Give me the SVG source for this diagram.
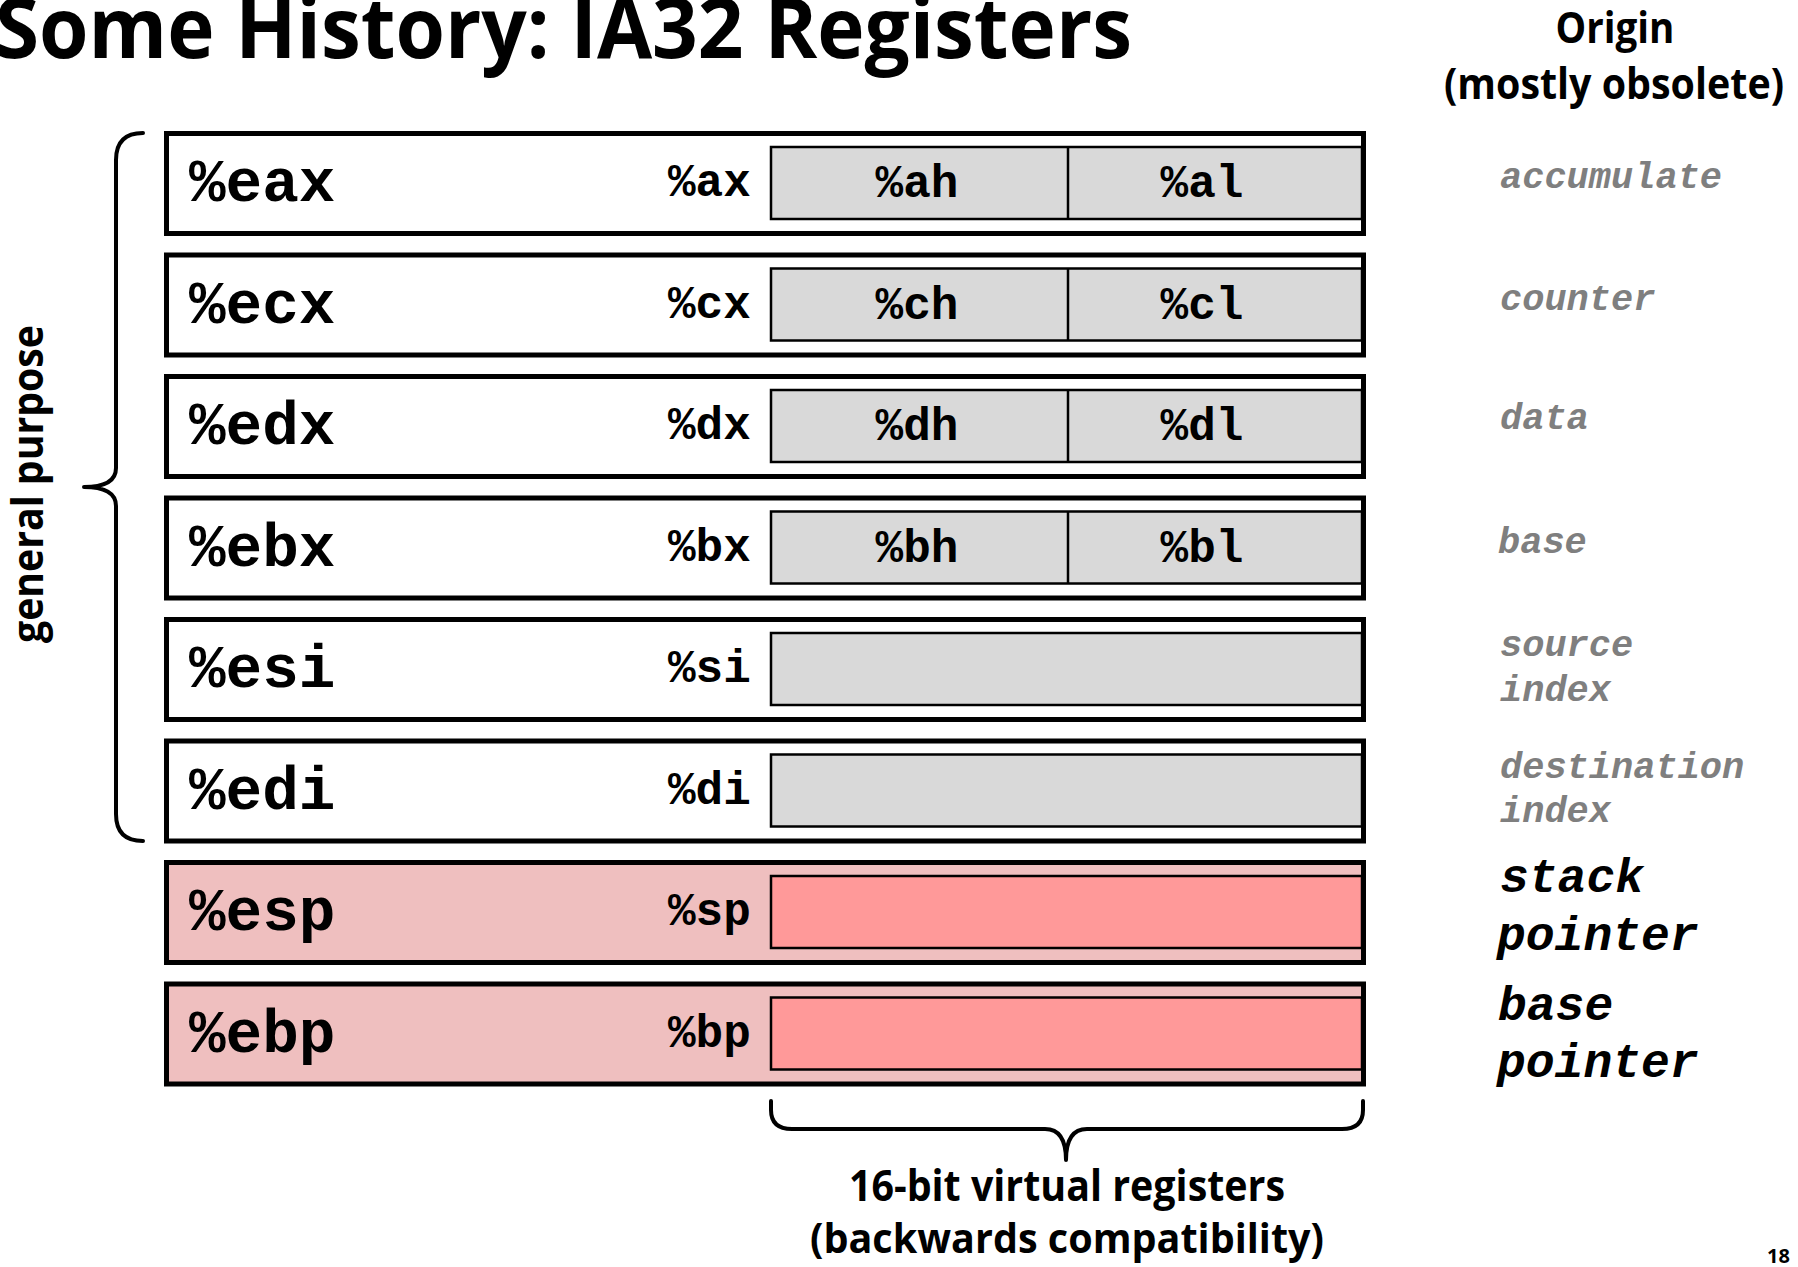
<svg xmlns="http://www.w3.org/2000/svg" width="1798" height="1267" viewBox="0 0 1798 1267">
<style>
.sans{font-family:"Open Sans","Noto Sans","Liberation Sans",sans-serif;font-weight:700;fill:#000}
.reg{font-family:"Liberation Mono","Courier New",monospace;font-weight:700;font-size:61px;fill:#000}
.r16{font-family:"Liberation Mono","Courier New",monospace;font-weight:700;font-size:46px;fill:#000}
.orig{font-family:"Liberation Mono","Courier New",monospace;font-weight:700;font-style:italic;font-size:37px;fill:#7f7f7f}
.origb{font-family:"Liberation Mono","Courier New",monospace;font-weight:700;font-style:italic;font-size:48px;fill:#000}
.outer{fill:#fff;stroke:#000;stroke-width:5}
.outerp{fill:#efbfbf;stroke:#000;stroke-width:5}
.inner{fill:#d9d9d9;stroke:#000;stroke-width:2.5}
.innerp{fill:#ff9999;stroke:#000;stroke-width:2.5}
.div{stroke:#000;stroke-width:2.5}
.brace{fill:none;stroke:#000;stroke-width:4;stroke-linecap:round;stroke-linejoin:round}
</style>
<rect width="1798" height="1267" fill="#fff"/>
<g id="title">
<text class="sans" x="-5" y="58" font-size="85" textLength="1137" lengthAdjust="spacingAndGlyphs">Some History: IA32 Registers</text>
</g>
<g id="origin-header">
<text class="sans" x="1615" y="43" font-size="43" text-anchor="middle" textLength="119" lengthAdjust="spacingAndGlyphs">Origin</text>
<text class="sans" x="1614" y="99" font-size="43" text-anchor="middle" textLength="340" lengthAdjust="spacingAndGlyphs">(mostly obsolete)</text>
</g>
<g id="reg-eax" transform="translate(0,131)">
<rect class="outer" x="166.5" y="2.5" width="1197" height="100"/>
<rect class="inner" x="771" y="16" width="591" height="72"/>
<line class="div" x1="1068" y1="16" x2="1068" y2="88"/>
<text class="reg" x="189" y="70">%eax</text>
<text class="r16" x="668" y="65">%ax</text>
<text class="r16" x="917" y="66" text-anchor="middle">%ah</text>
<text class="r16" x="1202" y="66" text-anchor="middle">%al</text>
</g>
<g id="reg-ecx" transform="translate(0,252.5)">
<rect class="outer" x="166.5" y="2.5" width="1197" height="100"/>
<rect class="inner" x="771" y="16" width="591" height="72"/>
<line class="div" x1="1068" y1="16" x2="1068" y2="88"/>
<text class="reg" x="189" y="70">%ecx</text>
<text class="r16" x="668" y="65">%cx</text>
<text class="r16" x="917" y="66" text-anchor="middle">%ch</text>
<text class="r16" x="1202" y="66" text-anchor="middle">%cl</text>
</g>
<g id="reg-edx" transform="translate(0,374)">
<rect class="outer" x="166.5" y="2.5" width="1197" height="100"/>
<rect class="inner" x="771" y="16" width="591" height="72"/>
<line class="div" x1="1068" y1="16" x2="1068" y2="88"/>
<text class="reg" x="189" y="70">%edx</text>
<text class="r16" x="668" y="65">%dx</text>
<text class="r16" x="917" y="66" text-anchor="middle">%dh</text>
<text class="r16" x="1202" y="66" text-anchor="middle">%dl</text>
</g>
<g id="reg-ebx" transform="translate(0,495.5)">
<rect class="outer" x="166.5" y="2.5" width="1197" height="100"/>
<rect class="inner" x="771" y="16" width="591" height="72"/>
<line class="div" x1="1068" y1="16" x2="1068" y2="88"/>
<text class="reg" x="189" y="70">%ebx</text>
<text class="r16" x="668" y="65">%bx</text>
<text class="r16" x="917" y="66" text-anchor="middle">%bh</text>
<text class="r16" x="1202" y="66" text-anchor="middle">%bl</text>
</g>
<g id="reg-esi" transform="translate(0,617)">
<rect class="outer" x="166.5" y="2.5" width="1197" height="100"/>
<rect class="inner" x="771" y="16" width="591" height="72"/>
<text class="reg" x="189" y="70">%esi</text>
<text class="r16" x="668" y="65">%si</text>
</g>
<g id="reg-edi" transform="translate(0,738.5)">
<rect class="outer" x="166.5" y="2.5" width="1197" height="100"/>
<rect class="inner" x="771" y="16" width="591" height="72"/>
<text class="reg" x="189" y="70">%edi</text>
<text class="r16" x="668" y="65">%di</text>
</g>
<g id="reg-esp" transform="translate(0,860)">
<rect class="outerp" x="166.5" y="2.5" width="1197" height="100"/>
<rect class="innerp" x="771" y="16" width="591" height="72"/>
<text class="reg" x="189" y="70">%esp</text>
<text class="r16" x="668" y="65">%sp</text>
</g>
<g id="reg-ebp" transform="translate(0,981.5)">
<rect class="outerp" x="166.5" y="2.5" width="1197" height="100"/>
<rect class="innerp" x="771" y="16" width="591" height="72"/>
<text class="reg" x="189" y="70">%ebp</text>
<text class="r16" x="668" y="65">%bp</text>
</g>
<g id="origins">
<text class="orig" x="1500" y="188">accumulate</text>
<text class="orig" x="1500" y="310">counter</text>
<text class="orig" x="1500" y="429">data</text>
<text class="orig" x="1498" y="553">base</text>
<text class="orig" x="1500" y="656">source</text>
<text class="orig" x="1500" y="701">index</text>
<text class="orig" x="1500" y="778">destination</text>
<text class="orig" x="1500" y="822">index</text>
<text class="origb" x="1500" y="892">stack</text>
<text class="origb" x="1497" y="950">pointer</text>
<text class="origb" x="1498" y="1020">base</text>
<text class="origb" x="1497" y="1077">pointer</text>
</g>
<g id="connectors">
<path id="brace-general" class="brace" d="M143,133 Q116,133 116,160 L116,468 Q116,487 84,487 Q116,487 116,506 L116,814 Q116,841 143,841"/>
<path id="brace-16bit" class="brace" d="M771,1101 L771,1110 Q771,1129 792,1129 L1045,1129 Q1066,1129 1066,1160 Q1066,1129 1087,1129 L1342,1129 Q1363,1129 1363,1110 L1363,1101"/>
</g>
<g id="label-general">
<text class="sans" transform="translate(43,484) rotate(-90)" x="0" y="0" font-size="43" text-anchor="middle" textLength="318" lengthAdjust="spacingAndGlyphs">general purpose</text>
</g>
<g id="label-16bit">
<text class="sans" x="1067" y="1201" font-size="43" text-anchor="middle" textLength="436" lengthAdjust="spacingAndGlyphs">16-bit virtual registers</text>
<text class="sans" x="1067" y="1253" font-size="42" text-anchor="middle" textLength="514" lengthAdjust="spacingAndGlyphs">(backwards compatibility)</text>
</g>
<g id="page-number">
<text class="sans" x="1767" y="1263" font-size="20">18</text>
</g>
</svg>
